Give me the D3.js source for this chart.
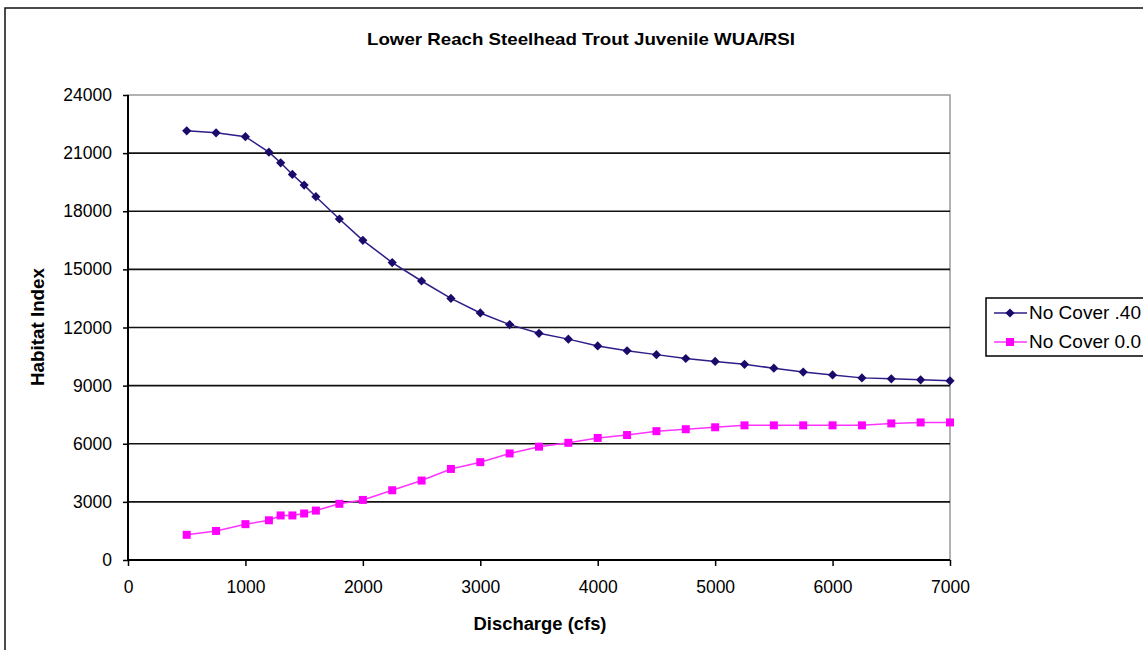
<!DOCTYPE html>
<meta charset="utf-8">
<script src="https://d3js.org/d3.v7.min.js"></script>
<style>
  body { margin: 0; background: #fff; }
  text { font-family: "Liberation Sans", Arial, sans-serif; fill: #000; }
</style>
<div id="vis"></div>
<script>

// discharge (cfs) for each sample
var discharge = [500, 750, 1000, 1200, 1300, 1400, 1500, 1600, 1800, 2000, 2250, 2500, 2750, 3000, 3250,
                 3500, 3750, 4000, 4250, 4500, 4750, 5000, 5250, 5500, 5750, 6000, 6250, 6500, 6750, 7000]
var cover40 = [22150, 22050, 21850, 21050, 20500, 19900, 19350, 18750, 17600, 16500, 15350, 14400, 13500, 12750, 12150,
               11700, 11400, 11050, 10800, 10600, 10400, 10250, 10100, 9900, 9700, 9550, 9400, 9350, 9300, 9250]
var cover00 = [1300, 1500, 1850, 2050, 2300, 2300, 2400, 2550, 2900, 3100, 3600, 4100, 4700, 5050, 5500,
               5850, 6050, 6300, 6450, 6650, 6750, 6850, 6950, 6950, 6950, 6950, 6950, 7050, 7100, 7100]
var seriesNames = ["No Cover .40", "No Cover 0.0"]
var xTicks = [0, 1000, 2000, 3000, 4000, 5000, 6000, 7000]
var yTicks = [0, 3000, 6000, 9000, 12000, 15000, 18000, 21000, 24000]

var width = 1143,
    height = 650

var svg = d3.select("#vis")
  .append("svg")
    .attr("width", width)
    .attr("height", height)

// outer chart frame (runs off the right/bottom edge)
svg.append("rect")
  .attr("x", 5).attr("y", 8)
  .attr("width", 1160).attr("height", 660)
  .attr("fill", "none")
  .attr("stroke", "#111")
  .attr("stroke-width", 1.5)

var x = d3.scaleLinear().domain([0, 7000]).range([128, 950])
var y = d3.scaleLinear().domain([0, 24000]).range([560, 95])

// plot area border
svg.append("rect")
  .attr("x", x(0)).attr("y", y(24000))
  .attr("width", x(7000) - x(0)).attr("height", y(0) - y(24000))
  .attr("fill", "none")
  .attr("stroke", "#999")
  .attr("stroke-width", 1.5)

// gridlines
svg.selectAll(".grid")
  .data(yTicks.filter(function(d) { return d > 0 && d < 24000 }))
  .enter().append("line")
    .attr("x1", x(0)).attr("x2", x(7000))
    .attr("y1", function(d) { return y(d) }).attr("y2", function(d) { return y(d) })
    .attr("stroke", "#111")
    .attr("stroke-width", 1.6)

// axes
var yAxis = svg.append("g")
  .attr("transform", "translate(" + x(0) + ",0)")
  .call(d3.axisLeft(y).tickValues(yTicks).tickSize(5).tickPadding(11).tickFormat(d3.format("d")))
var xAxis = svg.append("g")
  .attr("transform", "translate(0," + y(0) + ")")
  .call(d3.axisBottom(x).tickValues(xTicks).tickSize(6).tickPadding(15).tickFormat(d3.format("d")))

;[xAxis, yAxis].forEach(function(a) {
  a.select(".domain").attr("stroke", "#000").attr("stroke-width", 2)
  a.selectAll(".tick line").attr("stroke", "#000").attr("stroke-width", 1.5)
  a.selectAll(".tick text").style("font-size", "17.5px").style("font-family", "'Liberation Sans', Arial, sans-serif")
})
yAxis.select(".domain").attr("d", "M0," + y(0) + "V" + y(24000))
xAxis.select(".domain").attr("d", "M" + x(0) + ",0H" + x(7000))

// titles
svg.append("text")
  .attr("x", 581).attr("y", 45)
  .attr("text-anchor", "middle")
  .attr("textLength", 428)
  .attr("lengthAdjust", "spacingAndGlyphs")
  .style("font-size", "17px").style("font-weight", "bold")
  .text("Lower Reach Steelhead Trout Juvenile WUA/RSI")

svg.append("text")
  .attr("x", 540).attr("y", 630)
  .attr("text-anchor", "middle")
  .attr("textLength", 133)
  .attr("lengthAdjust", "spacingAndGlyphs")
  .style("font-size", "18px").style("font-weight", "bold")
  .text("Discharge (cfs)")

svg.append("text")
  .attr("transform", "translate(44,327) rotate(-90)")
  .attr("text-anchor", "middle")
  .attr("textLength", 118)
  .attr("lengthAdjust", "spacingAndGlyphs")
  .style("font-size", "18px").style("font-weight", "bold")
  .text("Habitat Index")

// equal-sided diamond like the spreadsheet marker
function diamond(r) {
  return "M0," + (-r) + "L" + r + ",0L0," + r + "L" + (-r) + ",0Z"
}
function square(r) {
  return "M" + (-r) + "," + (-r) + "H" + r + "V" + r + "H" + (-r) + "Z"
}

var series = [
  { name: seriesNames[0], values: cover40, line: "#2f1c88", fill: "#1c0a6a", shape: diamond(4.6) },
  { name: seriesNames[1], values: cover00, line: "#ff33ff", fill: "#ff00ff", shape: square(4) }
]

var line = d3.line()
  .x(function(d) { return x(d[0]) })
  .y(function(d) { return y(d[1]) })

series.forEach(function(s) {
  var pts = d3.zip(discharge, s.values)
  svg.append("path")
    .datum(pts)
    .attr("d", line)
    .attr("fill", "none")
    .attr("stroke", s.line)
    .attr("stroke-width", 1.5)
  svg.append("g").selectAll("path")
    .data(pts)
    .enter().append("path")
      .attr("transform", function(d) { return "translate(" + x(d[0]) + "," + y(d[1]) + ")" })
      .attr("d", s.shape)
      .attr("fill", s.fill)
})

// legend
var legend = svg.append("g")
legend.append("rect")
  .attr("x", 986).attr("y", 298)
  .attr("width", 180).attr("height", 58)
  .attr("fill", "#fff")
  .attr("stroke", "#000")
  .attr("stroke-width", 1.5)

var rows = legend.selectAll(".row")
  .data(series)
  .enter().append("g")
    .attr("transform", function(d, i) { return "translate(0," + (313 + i * 29) + ")" })
rows.append("line")
  .attr("x1", 994).attr("x2", 1027)
  .attr("stroke", function(d) { return d.line })
  .attr("stroke-width", 1.5)
rows.append("path")
  .attr("transform", "translate(1010,0)")
  .attr("d", function(d) { return d.shape })
  .attr("fill", function(d) { return d.fill })
rows.append("text")
  .attr("x", 1029).attr("dy", "0.35em")
  .attr("textLength", 112)
  .attr("lengthAdjust", "spacingAndGlyphs")
  .style("font-size", "18px")
  .text(function(d) { return d.name })

</script>
